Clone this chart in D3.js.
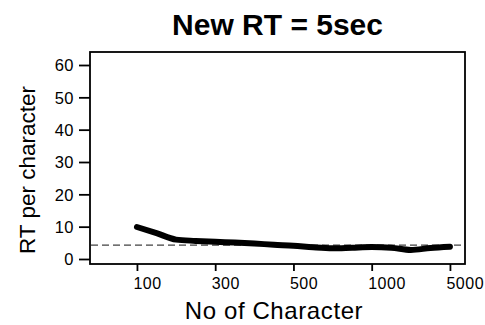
<!DOCTYPE html>
<html>
<head>
<meta charset="utf-8">
<script src="https://cdn.jsdelivr.net/npm/d3@7"></script>
<style>
  html, body { margin: 0; padding: 0; background: #fff; }
  svg { display: block; font-family: "Liberation Sans", Arial, sans-serif; }
</style>
</head>
<body>
<svg id="chart" width="485" height="325"></svg>
<script>
// ---- data ----
const categories = ["100","150","200","250","300","350","400","450","500","625","750","875","1000","2000","3000","4000","5000"];
const rtValues   = [9.9, 8.0, 6.0, 5.6, 5.3, 5.1, 4.8, 4.4, 4.1, 3.6, 3.3, 3.5, 3.7, 3.5, 2.8, 3.4, 3.8];
const xTickLabels = ["100","300","500","1000","5000"];
const yTickValues = [0, 10, 20, 30, 40, 50, 60];
const referenceLine = 4.3;
const titleText = "New RT = 5sec";
const xLabelText = "No of Character";
const yLabelText = "RT per character";

// ---- layout ----
const frame = { left: 90, right: 465, top: 52, bottom: 264 };

const svg = d3.select("#chart");

const xIdx = d3.scaleLinear()
  .domain([-2.4, categories.length - 1 + 0.77])
  .range([frame.left, frame.right]);
const x = c => xIdx(categories.indexOf(c));

const y = d3.scaleLinear()
  .domain([0, 60])
  .range([259, 65]);

// frame
svg.append("rect")
  .attr("x", frame.left).attr("y", frame.top)
  .attr("width", frame.right - frame.left)
  .attr("height", frame.bottom - frame.top)
  .attr("fill", "none").attr("stroke", "#000").attr("stroke-width", 1.8);

// y axis
const yAxis = d3.axisLeft(y).tickValues(yTickValues).tickSize(11).tickPadding(5);
const gy = svg.append("g").attr("transform", `translate(${frame.left},0)`).call(yAxis);
gy.select(".domain").remove();
gy.selectAll(".tick line").attr("stroke", "#000").attr("stroke-width", 1.8);
gy.selectAll(".tick text")
  .attr("fill", "#000").style("font-size", "16.5px")
  .style("letter-spacing", "0.5px")
  .attr("dy", "0.36em");

// x axis
const xAxis = d3.axisBottom(xIdx)
  .tickValues(xTickLabels.map(c => categories.indexOf(c)))
  .tickFormat(i => categories[i])
  .tickSize(7).tickPadding(7);
const gx = svg.append("g").attr("transform", `translate(0,${frame.bottom})`).call(xAxis);
gx.select(".domain").remove();
gx.selectAll(".tick line").attr("stroke", "#000").attr("stroke-width", 1.8);
gx.selectAll(".tick text")
  .attr("fill", "#000").style("font-size", "16px")
  .style("letter-spacing", "0.5px")
  .attr("text-anchor", "start").attr("dx", -4);

// reference dashed line
svg.append("line")
  .attr("x1", frame.left + 1).attr("x2", frame.right - 1)
  .attr("y1", y(referenceLine)).attr("y2", y(referenceLine))
  .attr("stroke", "#111").attr("stroke-width", 1)
  .attr("stroke-dasharray", "7,4");

// data line
const line = d3.line()
  .x((d, i) => x(categories[i]))
  .y(d => y(d))
  .curve(d3.curveMonotoneX);
svg.append("path")
  .datum(rtValues)
  .attr("d", line)
  .attr("fill", "none").attr("stroke", "#000")
  .attr("stroke-width", 6)
  .attr("stroke-linecap", "round").attr("stroke-linejoin", "round");

// title
svg.append("text")
  .attr("x", (frame.left + frame.right) / 2).attr("y", 35)
  .attr("text-anchor", "middle")
  .style("font-size", "30px").style("font-weight", "bold")
  .attr("fill", "#000")
  .text(titleText);

// x label
svg.append("text")
  .attr("x", 274).attr("y", 319)
  .attr("text-anchor", "middle")
  .style("font-size", "24px").style("letter-spacing", "0.6px")
  .attr("fill", "#000")
  .text(xLabelText);

// y label
svg.append("text")
  .attr("transform", "translate(35,170) rotate(-90)")
  .attr("text-anchor", "middle")
  .style("font-size", "22.5px")
  .attr("fill", "#000")
  .text(yLabelText);
</script>
</body>
</html>
